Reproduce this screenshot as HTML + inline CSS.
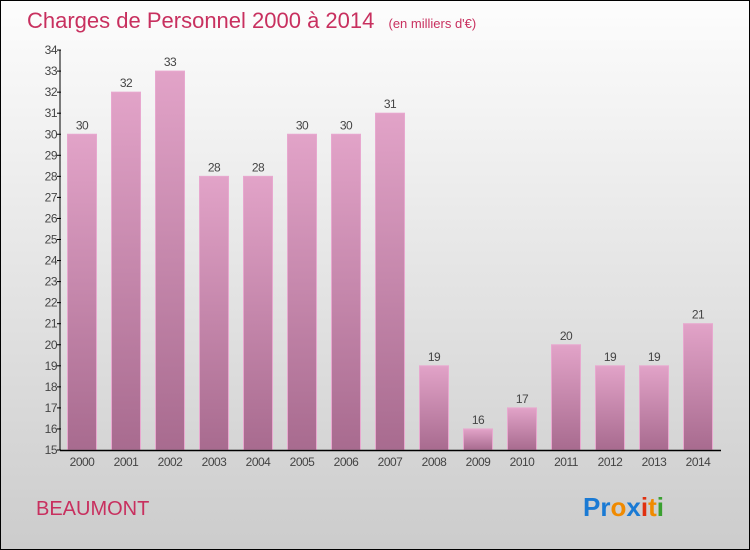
<!DOCTYPE html>
<html><head><meta charset="utf-8"><style>
body{margin:0;width:750px;height:550px;overflow:hidden}
svg{display:block}
</style></head><body>
<svg width="750" height="550">
<defs>
<linearGradient id="bg" x1="0" y1="0" x2="0" y2="1"><stop offset="0" stop-color="#fdfdfd"/><stop offset="1" stop-color="#cccccc"/></linearGradient>
<linearGradient id="bar" x1="0" y1="0" x2="0" y2="1"><stop offset="0" stop-color="#e2a3c8"/><stop offset="1" stop-color="#a86b8f"/></linearGradient>
</defs>
<rect x="0.5" y="0.5" width="749" height="549" fill="url(#bg)" stroke="#000"/>
<text x="27" y="28" font-family="Liberation Sans, sans-serif" font-size="22" fill="#c8305f">Charges de Personnel 2000 à 2014 <tspan font-size="13" dx="8">(en milliers d'€)</tspan></text>
<g id="yax"></g>
<g id="bars"></g>
<g id="xax"></g>
<text x="36" y="515" font-family="Liberation Sans, sans-serif" font-size="20" fill="#c8305f">BEAUMONT</text>
<text x="583" y="516" font-family="Liberation Sans, sans-serif" font-size="26" font-weight="bold"><tspan fill="#1a7ad4">Pr</tspan><tspan fill="#f08a00">o</tspan><tspan fill="#1a7ad4">x</tspan><tspan fill="#e03010">i</tspan><tspan fill="#f08a00">t</tspan><tspan fill="#3aa030">i</tspan></text>
</svg>
<script>
const categories=["2000","2001","2002","2003","2004","2005","2006","2007","2008","2009","2010","2011","2012","2013","2014"];
const values=[30,32,33,28,28,30,30,31,19,16,17,20,19,19,21];
const yTicks=[15,16,17,18,19,20,21,22,23,24,25,26,27,28,29,30,31,32,33,34];
const NS="http://www.w3.org/2000/svg";
const y=v=>450-(v-15)*21.05;
const x=i=>67+i*44;
function mk(tag,attrs,parent,txt){const e=document.createElementNS(NS,tag);for(const k in attrs)e.setAttribute(k,attrs[k]);if(txt!==undefined)e.textContent=txt;parent.appendChild(e);return e;}
const yax=document.getElementById('yax'),bars=document.getElementById('bars'),xax=document.getElementById('xax');
let l=mk('line',{x1:60,y1:50,x2:60,y2:450,stroke:'#000'},yax);


yTicks.forEach(t=>{
 const tk=mk('line',{x1:57,x2:61,y1:y(t),y2:y(t),stroke:'#000'},yax);
 
 
 const tx=mk('text',{x:57,y:y(t)+4,'text-anchor':'end','font-family':'Liberation Sans, sans-serif','font-size':12,fill:'#444','letter-spacing':'-0.5'},yax,t);
 
 
});
values.forEach((v,i)=>{
 const r=mk('rect',{x:x(i)+0.5,y:y(v),width:29,height:450-y(v),fill:'url(#bar)',stroke:'#e8a8cf','stroke-width':1},bars);
 
 
 const t=mk('text',{x:x(i)+15,y:y(v)-5,'text-anchor':'middle','font-family':'Liberation Sans, sans-serif','font-size':12,fill:'#444','letter-spacing':'-0.5'},bars,v);
 
 
 const c=mk('text',{x:x(i)+15,y:466,'text-anchor':'middle','font-family':'Liberation Sans, sans-serif','font-size':12,fill:'#444','letter-spacing':'-0.5'},xax,categories[i]);
 
 
});
l=mk('line',{x1:60,y1:450.5,x2:721,y2:450.5,stroke:'#000','stroke-width':1.5},xax);


</script>
</body></html>
